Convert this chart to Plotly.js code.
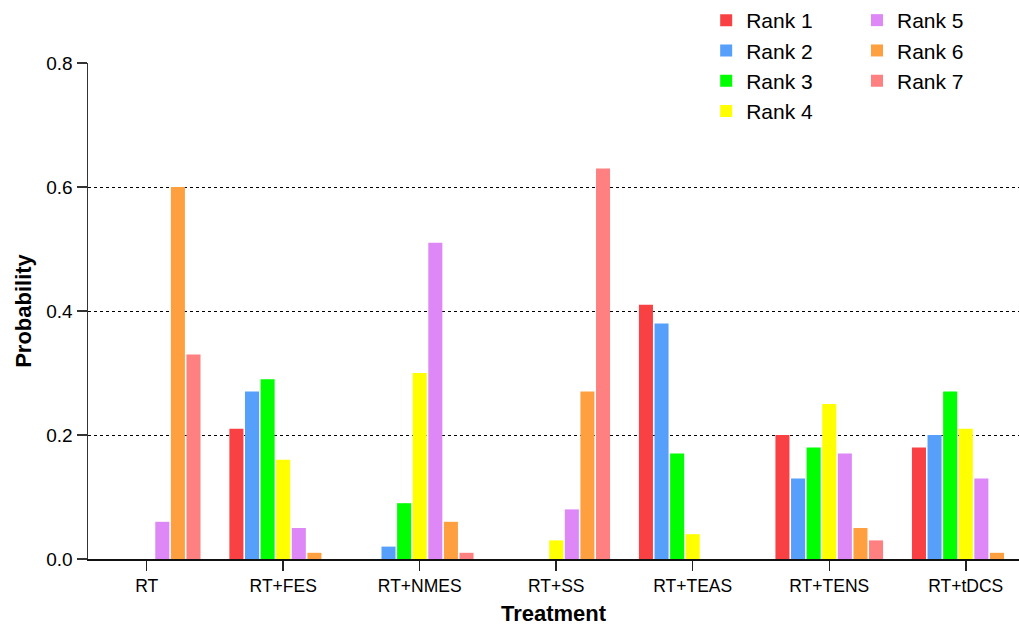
<!DOCTYPE html>
<html>
<head>
<meta charset="utf-8">
<script src="https://cdn.plot.ly/plotly-3.0.1.min.js"></script>
<style>html,body{margin:0;padding:0;background:#fff;}#chart{width:1019px;height:626px;}</style>
</head>
<body>
<div id="chart"></div>
<script>
var treatments = ["RT", "RT+FES", "RT+NMES", "RT+SS", "RT+TEAS", "RT+TENS", "RT+tDCS"];
var rankNames = ["Rank 1", "Rank 2", "Rank 3", "Rank 4", "Rank 5", "Rank 6", "Rank 7"];
var rank1 = [0, 0.21, 0, 0, 0.41, 0.20, 0.18];
var rank2 = [0, 0.27, 0.02, 0, 0.38, 0.13, 0.20];
var rank3 = [0, 0.29, 0.09, 0, 0.17, 0.18, 0.27];
var rank4 = [0, 0.16, 0.30, 0.03, 0.04, 0.25, 0.21];
var rank5 = [0.06, 0.05, 0.51, 0.08, 0, 0.17, 0.13];
var rank6 = [0.60, 0.01, 0.06, 0.27, 0, 0.05, 0.01];
var rank7 = [0.33, 0, 0.01, 0.63, 0, 0.03, 0];
var yTicks = [0, 0.2, 0.4, 0.6, 0.8];
var rankColors = ["#F94144", "#56A0FB", "#00FF00", "#FFFF00", "#DD88F6", "#FFA040", "#FF8080"];

var series = [rank1, rank2, rank3, rank4, rank5, rank6, rank7];
var traces = series.map(function (vals, i) {
  return {
    type: "bar",
    name: rankNames[i],
    x: treatments,
    y: vals,
    marker: { color: rankColors[i], line: { width: 0 } },
    legend: i < 4 ? "legend" : "legend2",
    hoverinfo: "x+y+name"
  };
});

var font = "Liberation Sans, Arial, sans-serif";
var layout = {
  width: 1019, height: 626,
  margin: { l: 88, r: 0, t: 62, b: 67 },
  paper_bgcolor: "#fff", plot_bgcolor: "#fff",
  font: { family: font, color: "#000" },
  barmode: "group",
  bargap: 0.2,
  bargroupgap: 0.1,
  showlegend: true,
  legend: {
    x: 0.664, xanchor: "left", y: 1.127, yanchor: "top",
    orientation: "v", font: { size: 21, family: font, color: "#000" },
    bgcolor: "rgba(0,0,0,0)", tracegroupgap: 0, traceorder: "normal"
  },
  legend2: {
    x: 0.826, xanchor: "left", y: 1.127, yanchor: "top",
    orientation: "v", font: { size: 21, family: font, color: "#000" },
    bgcolor: "rgba(0,0,0,0)", tracegroupgap: 0, traceorder: "normal"
  },
  xaxis: {
    type: "category",
    range: [-0.43, 6.39],
    showline: true, linecolor: "#111", linewidth: 1.5,
    ticks: "outside", ticklen: 10, tickcolor: "#222", tickwidth: 1.5,
    tickfont: { size: 17.5, family: font, color: "#000" },
    showgrid: false, zeroline: false,
    title: { text: "Treatment", font: { size: 22, family: font, color: "#000", weight: "bold" }, standoff: 14 },
    automargin: false
  },
  yaxis: {
    range: [0, 0.8],
    tickvals: yTicks,
    tickformat: ".1f",
    showline: true, linecolor: "#333", linewidth: 1.5,
    ticks: "outside", ticklen: 10, tickcolor: "#333", tickwidth: 1.5,
    tickfont: { size: 19, family: font, color: "#000" },
    showgrid: true, gridcolor: "#000", gridwidth: 1, griddash: "dot",
    zeroline: false,
    title: { text: "Probability", font: { size: 22, family: font, color: "#000", weight: "bold" }, standoff: 8 },
    automargin: false
  }
};

Plotly.newPlot("chart", traces, layout, { displayModeBar: false, staticPlot: true });
</script>
</body>
</html>
